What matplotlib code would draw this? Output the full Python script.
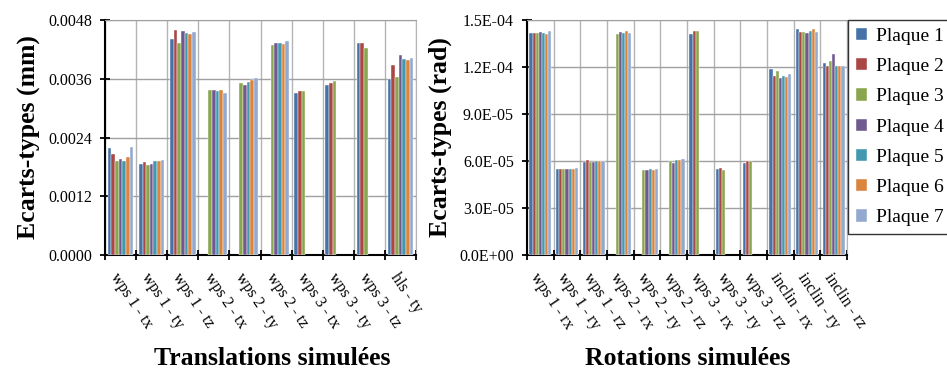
import numpy as np
import matplotlib
matplotlib.use("Agg")
import matplotlib.pyplot as plt
from matplotlib.ticker import FuncFormatter

plt.rcParams['font.family'] = ['Liberation Serif', 'DejaVu Serif']

nan = np.nan

# translations (mm)
trans_labels = ["wps 1 - tx", "wps 1 - ty", "wps 1 - tz", "wps 2 - tx", "wps 2 - ty",
                "wps 2 - tz", "wps 3 - tx", "wps 3 - ty", "wps 3 - tz", "hls - ty"]
trans_p1 = [0.00219, 0.00185, 0.00442, nan, nan, nan, 0.00330, 0.00348, 0.00433, 0.00359]
trans_p2 = [0.00206, 0.00189, 0.00459, nan, nan, nan, 0.00334, 0.00352, 0.00434, 0.00389]
trans_p3 = [0.00191, 0.00184, 0.00433, 0.00337, 0.00351, 0.00429, 0.00334, 0.00355, 0.00422, 0.00363]
trans_p4 = [0.00196, 0.00186, 0.00457, 0.00338, 0.00347, 0.00433, nan, nan, nan, 0.00409]
trans_p5 = [0.00193, 0.00191, 0.00454, 0.00334, 0.00354, 0.00433, nan, nan, nan, 0.00400]
trans_p6 = [0.00201, 0.00191, 0.00451, 0.00336, 0.00358, 0.00430, nan, nan, nan, 0.00398]
trans_p7 = [0.00220, 0.00195, 0.00455, 0.00331, 0.00361, 0.00437, nan, nan, nan, 0.00402]

# rotations (rad)
rot_labels = ["wps 1 - rx", "wps 1 - ry", "wps 1 - rz", "wps 2 - rx", "wps 2 - ry", "wps 2 - rz",
              "wps 3 - rx", "wps 3 - ry", "wps 3 - rz", "inclin - rx", "inclin - ry", "inclin - rz"]
rot_p1 = [1.417e-4, 5.51e-5, 5.92e-5, nan, nan, nan, 1.413e-4, 5.49e-5, 5.89e-5, 1.185e-4, 1.441e-4, 1.228e-4]
rot_p2 = [1.417e-4, 5.51e-5, 6.04e-5, nan, nan, nan, 1.432e-4, 5.55e-5, 6.00e-5, 1.141e-4, 1.422e-4, 1.206e-4]
rot_p3 = [1.417e-4, 5.49e-5, 5.94e-5, 1.413e-4, 5.44e-5, 6.00e-5, 1.428e-4, 5.40e-5, 6.00e-5, 1.174e-4, 1.423e-4, 1.236e-4]
rot_p4 = [1.423e-4, 5.51e-5, 5.96e-5, 1.423e-4, 5.43e-5, 5.87e-5, nan, nan, nan, 1.128e-4, 1.415e-4, 1.281e-4]
rot_p5 = [1.417e-4, 5.49e-5, 6.00e-5, 1.417e-4, 5.49e-5, 6.04e-5, nan, nan, nan, 1.145e-4, 1.430e-4, 1.208e-4]
rot_p6 = [1.413e-4, 5.49e-5, 6.00e-5, 1.430e-4, 5.43e-5, 6.06e-5, nan, nan, nan, 1.134e-4, 1.443e-4, 1.206e-4]
rot_p7 = [1.428e-4, 5.55e-5, 6.00e-5, 1.415e-4, 5.49e-5, 6.10e-5, nan, nan, nan, 1.153e-4, 1.423e-4, 1.206e-4]

series_names = ["Plaque 1", "Plaque 2", "Plaque 3", "Plaque 4", "Plaque 5", "Plaque 6", "Plaque 7"]
colors = ['#4572A7', '#AA4643', '#89A54E', '#71588F', '#4198AF', '#DB843D', '#93A9CF']

trans_series = [trans_p1, trans_p2, trans_p3, trans_p4, trans_p5, trans_p6, trans_p7]
rot_series = [rot_p1, rot_p2, rot_p3, rot_p4, rot_p5, rot_p6, rot_p7]


def draw(ax, labels, series, ymax, yticks, fmt, ylabel):
    n = len(labels)
    group = 0.82
    w = group / len(series)
    x = np.arange(n) + 0.5
    for k, vals in enumerate(series):
        ax.bar(x - group / 2 + w * (k + 0.5), vals, width=w, color=colors[k],
               edgecolor='white', linewidth=0.3, label=series_names[k], zorder=3)
    ax.set_xlim(0, n)
    ax.set_ylim(0, ymax)
    ax.set_yticks(yticks)
    ax.yaxis.set_major_formatter(FuncFormatter(fmt))
    ax.set_xticks(x)
    ax.set_xticklabels(labels, rotation=-56, ha='left', va='top', rotation_mode='anchor')
    ax.set_xticks(np.arange(n + 1), minor=True)
    ax.tick_params(axis='x', which='major', length=0, pad=11, labelsize=11.5)
    ax.tick_params(axis='x', which='minor', direction='inout', length=7, width=1.3)
    ax.tick_params(axis='y', direction='inout', length=7, width=1.3, labelsize=11.5, pad=6)
    ax.grid(True, axis='y', color='#a0a0a0', linewidth=1, zorder=0)
    ax.grid(True, axis='x', which='minor', color='#b4b4b4', linewidth=1, zorder=0)
    ax.spines['left'].set_linewidth(1.5)
    ax.spines['bottom'].set_linewidth(1.5)
    ax.spines['top'].set_color('#a0a0a0')
    ax.spines['right'].set_color('#b4b4b4')
    ax.set_ylabel(ylabel, fontsize=18.5, fontweight='bold', labelpad=5)


fig = plt.figure(figsize=(9.47, 3.71), dpi=100)
ax1 = fig.add_axes([105 / 947, 116 / 371, 311 / 947, 235 / 371])
ax2 = fig.add_axes([527 / 947, 116 / 371, 320 / 947, 235 / 371])

draw(ax1, trans_labels, trans_series, 0.0048, np.linspace(0, 0.0048, 5),
     lambda v, p: '{0:.4f}'.format(v), "Ecarts-types (mm)")
draw(ax2, rot_labels, rot_series, 1.5e-4, np.linspace(0, 1.5e-4, 6),
     lambda v, p: '{0:.1E}'.format(v), "Ecarts-types (rad)")

fig.text(272 / 947, 1 / 371, "Translations simulées", fontsize=18.5, fontweight='bold',
         ha='center', va='bottom')
fig.text(688 / 947, 1 / 371, "Rotations simulées", fontsize=18.5, fontweight='bold',
         ha='center', va='bottom')

handles, labs = ax2.get_legend_handles_labels()
leg = fig.legend(handles, labs, loc='upper left', bbox_to_anchor=(848 / 947, 1 - 20 / 371),
                 fontsize=14, frameon=True, fancybox=False, edgecolor='black',
                 handlelength=0.6, handleheight=0.6, handletextpad=0.45,
                 labelspacing=0.68, borderaxespad=0, borderpad=0.4)
leg.get_frame().set_linewidth(1.0)

fig.savefig("out.png", dpi=100)
